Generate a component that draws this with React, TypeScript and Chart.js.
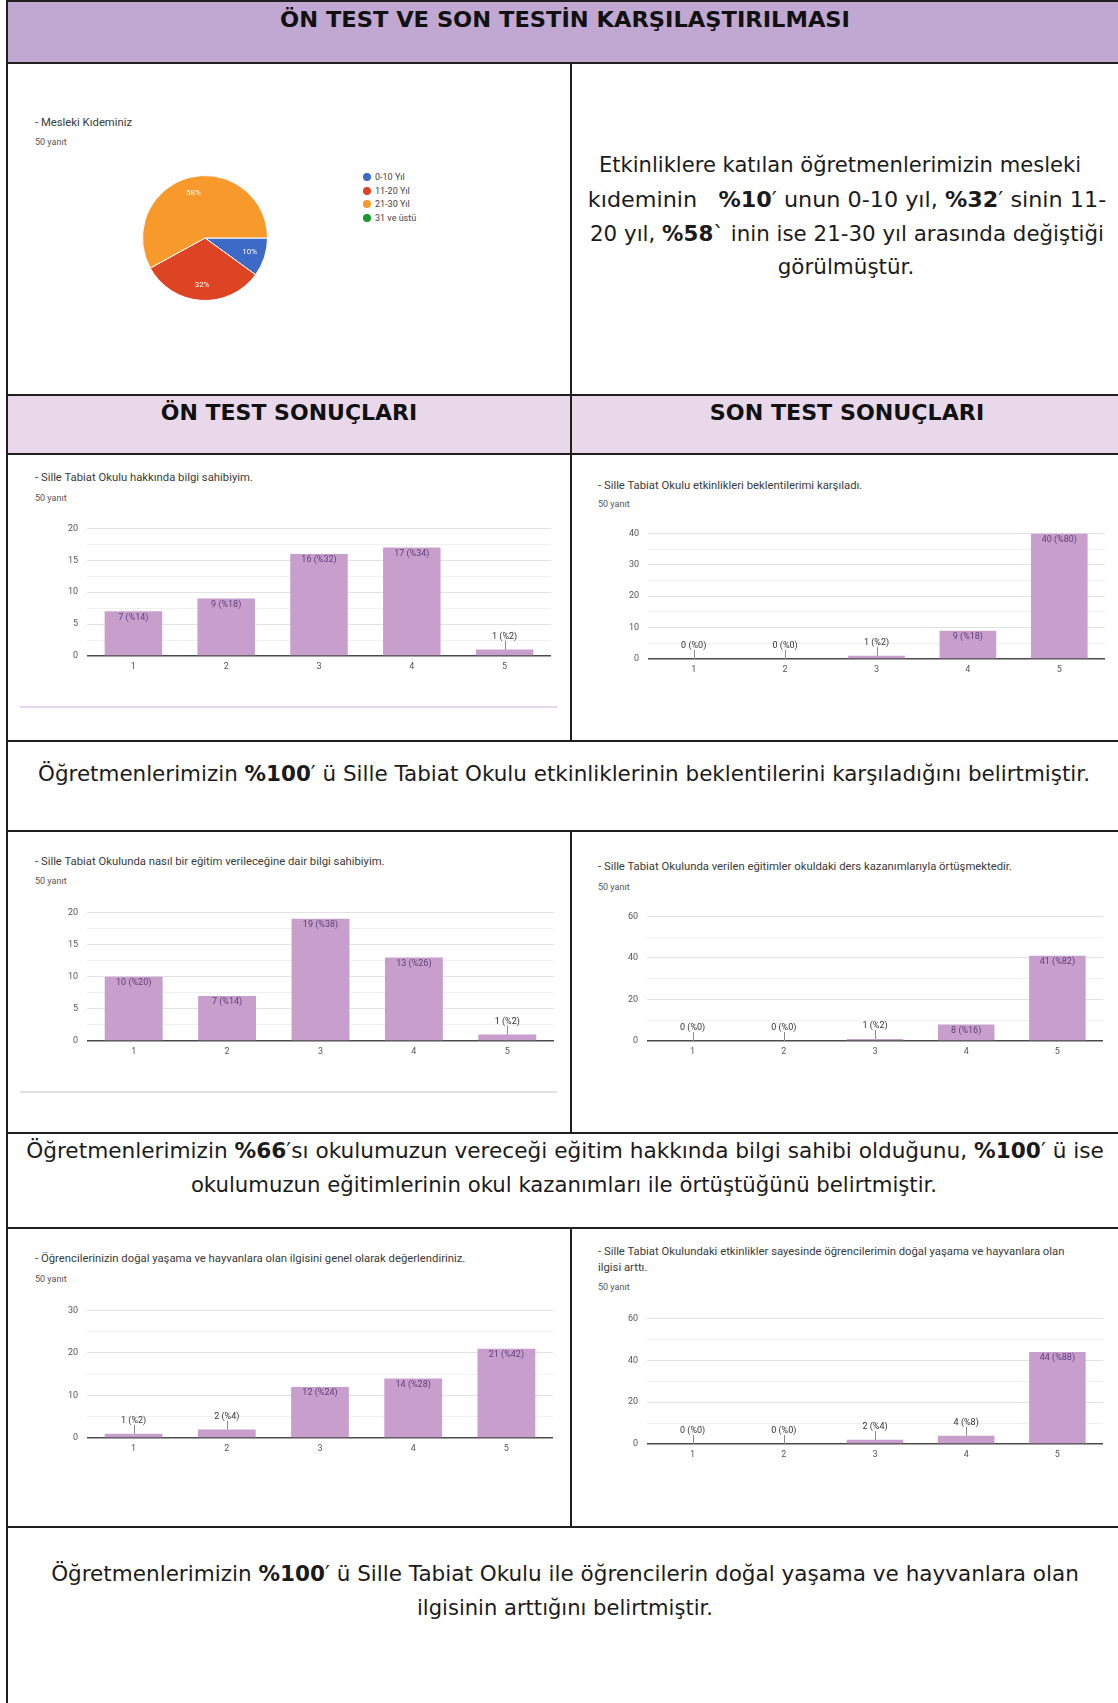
import React, { useEffect, useLayoutEffect, useRef } from 'react';
import { Chart, registerables } from 'chart.js';

Chart.register(...registerables);

// ---------- data ----------
const categories = ['1', '2', '3', '4', '5'];
const responseCount = 50;

const seniorityLabels = ['0-10 Yıl', '11-20 Yıl', '21-30 Yıl', '31 ve üstü'];
const seniorityValues = [10, 32, 58, 0];
const seniorityColors = ['#3D6AC6', '#DC4424', '#F7992B', '#179A2C'];

const preKnowledgeValues = [7, 9, 16, 17, 1];
const preKnowledgeTicks = [0, 5, 10, 15, 20];
const postExpectationValues = [0, 0, 1, 9, 40];
const postExpectationTicks = [0, 10, 20, 30, 40];

const preEducationValues = [10, 7, 19, 13, 1];
const preEducationTicks = [0, 5, 10, 15, 20];
const postCurriculumValues = [0, 0, 1, 8, 41];
const postCurriculumTicks = [0, 20, 40, 60];

const preInterestValues = [1, 2, 12, 14, 21];
const preInterestTicks = [0, 10, 20, 30];
const postInterestValues = [0, 0, 2, 4, 44];
const postInterestTicks = [0, 20, 40, 60];

// ---------- styles ----------
const BAR_COLOR = '#C89FCC';
const BODY_FONT = '"DejaVu Sans", Verdana, sans-serif';
const SMALL_FONT = 'Roboto, "Noto Sans", sans-serif';
const BORDER = '#1f1f1f';

const barLabelPlugin = {
  id: 'barLabels',
  afterDatasetsDraw(chart: any) {
    const ctx = chart.ctx;
    const meta = chart.getDatasetMeta(0);
    const vals = chart.data.datasets[0].data as number[];
    ctx.save();
    ctx.font = '9px ' + SMALL_FONT;
    ctx.textAlign = 'center';
    ctx.textBaseline = 'middle';
    meta.data.forEach((el: any, i: number) => {
      const v = vals[i];
      const text = `${v} (%${Math.round((v / responseCount) * 100)})`;
      const top = el.y;
      const h = el.base - el.y;
      if (h >= 14) {
        ctx.fillStyle = '#5E3F7A';
        ctx.fillText(text, el.x, top + 6);
      } else {
        ctx.strokeStyle = '#8a8a8a';
        ctx.lineWidth = 1;
        ctx.beginPath();
        ctx.moveTo(Math.round(el.x) + 0.5, top);
        ctx.lineTo(Math.round(el.x) + 0.5, top - 9);
        ctx.stroke();
        ctx.fillStyle = '#333';
        ctx.fillText(text, el.x, top - 13);
      }
    });
    ctx.restore();
  },
};

const pieLabelPlugin = {
  id: 'pieLabels',
  afterDatasetsDraw(chart: any) {
    const ctx = chart.ctx;
    const meta = chart.getDatasetMeta(0);
    const vals = chart.data.datasets[0].data as number[];
    const total = vals.reduce((a, b) => a + b, 0);
    ctx.save();
    ctx.font = '8px ' + SMALL_FONT;
    ctx.fillStyle = '#ffffff';
    ctx.textAlign = 'center';
    ctx.textBaseline = 'middle';
    meta.data.forEach((arc: any, i: number) => {
      if (!vals[i]) return;
      const p = arc.getProps(['x', 'y', 'startAngle', 'endAngle', 'outerRadius'], true);
      const mid = (p.startAngle + p.endAngle) / 2;
      const r = p.outerRadius * 0.75;
      ctx.fillText(`${Math.round((vals[i] / total) * 100)}%`, p.x + Math.cos(mid) * r, p.y + Math.sin(mid) * r);
    });
    ctx.restore();
  },
};

function BarChart(props: { values: number[]; ticks: number[]; left: number; right: number; top: number; bottom: number }) {
  const { values, ticks, left, right } = props;
  const top = props.top - 4;
  const bottom = props.bottom + 1;
  const ref = useRef<HTMLCanvasElement>(null);
  const padL = 50, padT = 10, padR = 10, padB = 25;
  const w = right - left + padL + padR;
  const h = bottom - top + padT + padB;
  useEffect(() => {
    const max = ticks[ticks.length - 1];
    const major = ticks[1] - ticks[0];
    const chart = new Chart(ref.current as HTMLCanvasElement, {
      type: 'bar',
      data: {
        labels: categories,
        datasets: [{ data: values, backgroundColor: BAR_COLOR, barPercentage: 0.62, categoryPercentage: 1 }],
      },
      options: {
        animation: false,
        responsive: false,
        devicePixelRatio: 1,
        layout: { padding: { top: padT, right: padR, left: 0, bottom: 0 } },
        plugins: { legend: { display: false }, tooltip: { enabled: false } },
        scales: {
          x: {
            grid: { display: false, drawTicks: false },
            border: { display: false },
            ticks: { color: '#555', font: { size: 9, family: SMALL_FONT }, padding: 5 },
            afterFit: (s: any) => { s.height = padB; },
          },
          y: {
            min: 0,
            max,
            border: { display: false },
            ticks: {
              stepSize: major / 2,
              color: '#555',
              font: { size: 9, family: SMALL_FONT },
              padding: 9,
              callback: (v: any) => (ticks.includes(Number(v)) ? String(v) : ''),
            },
            grid: {
              drawTicks: false,
              color: (c: any) => (c.tick.value === 0 ? '#4a4a4a' : ticks.includes(c.tick.value) ? '#e2e2e2' : '#f0f0f0'),
              lineWidth: (c: any) => (c.tick.value === 0 ? 1.5 : 1),
            },
            afterFit: (s: any) => { s.width = padL; },
          },
        },
      } as any,
      plugins: [barLabelPlugin],
    });
    return () => chart.destroy();
  }, []);
  return (
    <canvas
      ref={ref}
      width={w}
      height={h}
      style={{ position: 'absolute', left: left - padL, top: top - padT, width: w, height: h }}
    />
  );
}

function PieChart(props: { cx: number; cy: number; r: number }) {
  const { cx, cy, r } = props;
  const ref = useRef<HTMLCanvasElement>(null);
  const pad = 6;
  const size = r * 2 + pad * 2;
  useEffect(() => {
    const chart = new Chart(ref.current as HTMLCanvasElement, {
      type: 'pie',
      data: {
        labels: seniorityLabels,
        datasets: [{ data: seniorityValues, backgroundColor: seniorityColors, borderColor: '#ffffff', borderWidth: 1 }],
      },
      options: {
        animation: false,
        responsive: false,
        devicePixelRatio: 1,
        rotation: 90,
        layout: { padding: pad },
        plugins: { legend: { display: false }, tooltip: { enabled: false } },
      } as any,
      plugins: [pieLabelPlugin],
    });
    return () => chart.destroy();
  }, []);
  return (
    <canvas
      ref={ref}
      width={size}
      height={size}
      style={{ position: 'absolute', left: cx - size / 2, top: cy - size / 2, width: size, height: size }}
    />
  );
}

function FitText(props: { cx: number; cy: number; width: number; size: number; weight?: number; color?: string; children: any }) {
  const { cx, cy, width, size, weight = 400, color = '#1b1b1b', children } = props;
  const ref = useRef<HTMLDivElement>(null);
  useLayoutEffect(() => {
    const el = ref.current;
    if (!el) return;
    const w = el.offsetWidth;
    const s = w > 0 ? width / w : 1;
    el.style.transform = `translate(-50%, -50%) scaleX(${s})`;
  }, []);
  return (
    <div
      ref={ref}
      style={{
        position: 'absolute', left: cx, top: cy, whiteSpace: 'pre', fontSize: size, fontWeight: weight,
        fontFamily: BODY_FONT, lineHeight: 1, color, transform: 'translate(-50%, -50%)', transformOrigin: '50% 50%',
      }}
    >
      {children}
    </div>
  );
}

function SmallText(props: { x: number; y: number; size: number; color: string; children: any }) {
  return (
    <div
      style={{
        position: 'absolute', left: props.x, top: props.y, transform: 'translateY(-50%)', whiteSpace: 'pre',
        fontFamily: SMALL_FONT, fontSize: props.size, color: props.color, lineHeight: 1,
      }}
    >
      {props.children}
    </div>
  );
}

function ChartTitle(props: { x: number; lines: string[]; ys: number[]; countY: number }) {
  return (
    <>
      {props.lines.map((l, i) => (
        <SmallText key={i} x={props.x} y={props.ys[i]} size={11.3} color="#3a3a3a">{l}</SmallText>
      ))}
      <SmallText x={props.x} y={props.countY} size={9} color="#555">{`${responseCount} yanıt`}</SmallText>
    </>
  );
}

function HLine(props: { y: number; x1?: number; x2?: number; color?: string; h?: number }) {
  const { y, x1 = 6, x2 = 1118, color = BORDER, h = 2 } = props;
  return <div style={{ position: 'absolute', left: x1, top: y, width: x2 - x1, height: h, background: color }} />;
}
function VLine(props: { x: number; y1: number; y2: number }) {
  return <div style={{ position: 'absolute', left: props.x, top: props.y1, width: 2, height: props.y2 - props.y1, background: BORDER }} />;
}

export default function App() {
  useEffect(() => {
    document.body.style.margin = '0';
  }, []);
  const B = (t: string) => <b>{t}</b>;
  return (
    <div style={{ position: 'absolute', left: 0, top: 0, width: 1118, height: 1703, overflow: 'hidden', background: '#ffffff' }}>
      {/* backgrounds */}
      <div style={{ position: 'absolute', left: 6, top: 0, width: 1112, height: 63, background: '#C0A8D2' }} />
      <div style={{ position: 'absolute', left: 6, top: 395, width: 1112, height: 59, background: '#E8D8EA' }} />

      {/* borders */}
      <HLine y={0} />
      <HLine y={62} />
      <HLine y={394} />
      <HLine y={453} />
      <HLine y={740} />
      <HLine y={830} />
      <HLine y={1132} />
      <HLine y={1227} />
      <HLine y={1526} />
      <VLine x={6} y1={0} y2={1703} />
      <VLine x={570} y1={62} y2={741} />
      <VLine x={570} y1={830} y2={1133} />
      <VLine x={570} y1={1227} y2={1527} />

      {/* header */}
      <FitText cx={565} cy={20} width={570} size={22} weight={700} color="#111">ÖN TEST VE SON TESTİN KARŞILAŞTIRILMASI</FitText>

      {/* seniority pie */}
      <ChartTitle x={35} lines={['- Mesleki Kıdeminiz']} ys={[123]} countY={142} />
      <PieChart cx={205} cy={238} r={63} />
      {seniorityLabels.map((l, i) => (
        <div key={l} style={{ position: 'absolute', left: 363, top: 177 + i * 13.6 - 4, height: 8, display: 'flex', alignItems: 'center' }}>
          <div style={{ width: 8, height: 8, borderRadius: 4, background: seniorityColors[i] }} />
          <span style={{ marginLeft: 4, fontFamily: SMALL_FONT, fontSize: 9, color: '#444', whiteSpace: 'pre' }}>{l}</span>
        </div>
      ))}

      <FitText cx={840} cy={165} width={482} size={21}>Etkinliklere katılan öğretmenlerimizin mesleki</FitText>
      <FitText cx={847} cy={200} width={518} size={21}>kıdeminin   {B('%10')}′ unun 0-10 yıl, {B('%32')}′ sinin 11-</FitText>
      <FitText cx={847} cy={234} width={514} size={21}>20 yıl, {B('%58')}` inin ise 21-30 yıl arasında değiştiği</FitText>
      <FitText cx={846} cy={267} width={137} size={21}>görülmüştür.</FitText>

      {/* sub headers */}
      <FitText cx={289} cy={413} width={256} size={22} weight={700} color="#111">ÖN TEST SONUÇLARI</FitText>
      <FitText cx={847} cy={413} width={274} size={22} weight={700} color="#111">SON TEST SONUÇLARI</FitText>

      {/* row 1 charts */}
      <ChartTitle x={35} lines={['- Sille Tabiat Okulu hakkında bilgi sahibiyim.']} ys={[478]} countY={498} />
      <BarChart values={preKnowledgeValues} ticks={preKnowledgeTicks} left={87} right={551} top={528} bottom={655} />
      <HLine y={706} x1={20} x2={557} color="#E6D6EC" />

      <ChartTitle x={598} lines={['- Sille Tabiat Okulu etkinlikleri beklentilerimi karşıladı.']} ys={[486]} countY={504} />
      <BarChart values={postExpectationValues} ticks={postExpectationTicks} left={648} right={1105} top={533} bottom={658} />

      <FitText cx={564} cy={774} width={1052} size={21}>Öğretmenlerimizin {B('%100')}′ ü Sille Tabiat Okulu etkinliklerinin beklentilerini karşıladığını belirtmiştir.</FitText>

      {/* row 2 charts */}
      <ChartTitle x={35} lines={['- Sille Tabiat Okulunda nasıl bir eğitim verileceğine dair bilgi sahibiyim.']} ys={[862]} countY={881} />
      <BarChart values={preEducationValues} ticks={preEducationTicks} left={87} right={554} top={912} bottom={1040} />
      <HLine y={1091} x1={20} x2={557} color="#E2E2E2" />

      <ChartTitle x={598} lines={['- Sille Tabiat Okulunda verilen eğitimler okuldaki ders kazanımlarıyla örtüşmektedir.']} ys={[867]} countY={887} />
      <BarChart values={postCurriculumValues} ticks={postCurriculumTicks} left={647} right={1103} top={916} bottom={1040} />

      <FitText cx={565} cy={1151} width={1078} size={21}>Öğretmenlerimizin {B('%66')}′sı okulumuzun vereceği eğitim hakkında bilgi sahibi olduğunu, {B('%100')}′ ü ise</FitText>
      <FitText cx={564} cy={1185} width={746} size={21}>okulumuzun eğitimlerinin okul kazanımları ile örtüştüğünü belirtmiştir.</FitText>

      {/* row 3 charts */}
      <ChartTitle x={35} lines={['- Öğrencilerinizin doğal yaşama ve hayvanlara olan ilgisini genel olarak değerlendiriniz.']} ys={[1259]} countY={1279} />
      <BarChart values={preInterestValues} ticks={preInterestTicks} left={87} right={553} top={1310} bottom={1437} />

      <ChartTitle
        x={598}
        lines={['- Sille Tabiat Okulundaki etkinlikler sayesinde öğrencilerimin doğal yaşama ve hayvanlara olan', 'ilgisi arttı.']}
        ys={[1252, 1268]}
        countY={1287}
      />
      <BarChart values={postInterestValues} ticks={postInterestTicks} left={647} right={1103} top={1318} bottom={1443} />

      <FitText cx={565} cy={1574} width={1028} size={21}>Öğretmenlerimizin {B('%100')}′ ü Sille Tabiat Okulu ile öğrencilerin doğal yaşama ve hayvanlara olan</FitText>
      <FitText cx={565} cy={1608} width={296} size={21}>ilgisinin arttığını belirtmiştir.</FitText>
    </div>
  );
}
